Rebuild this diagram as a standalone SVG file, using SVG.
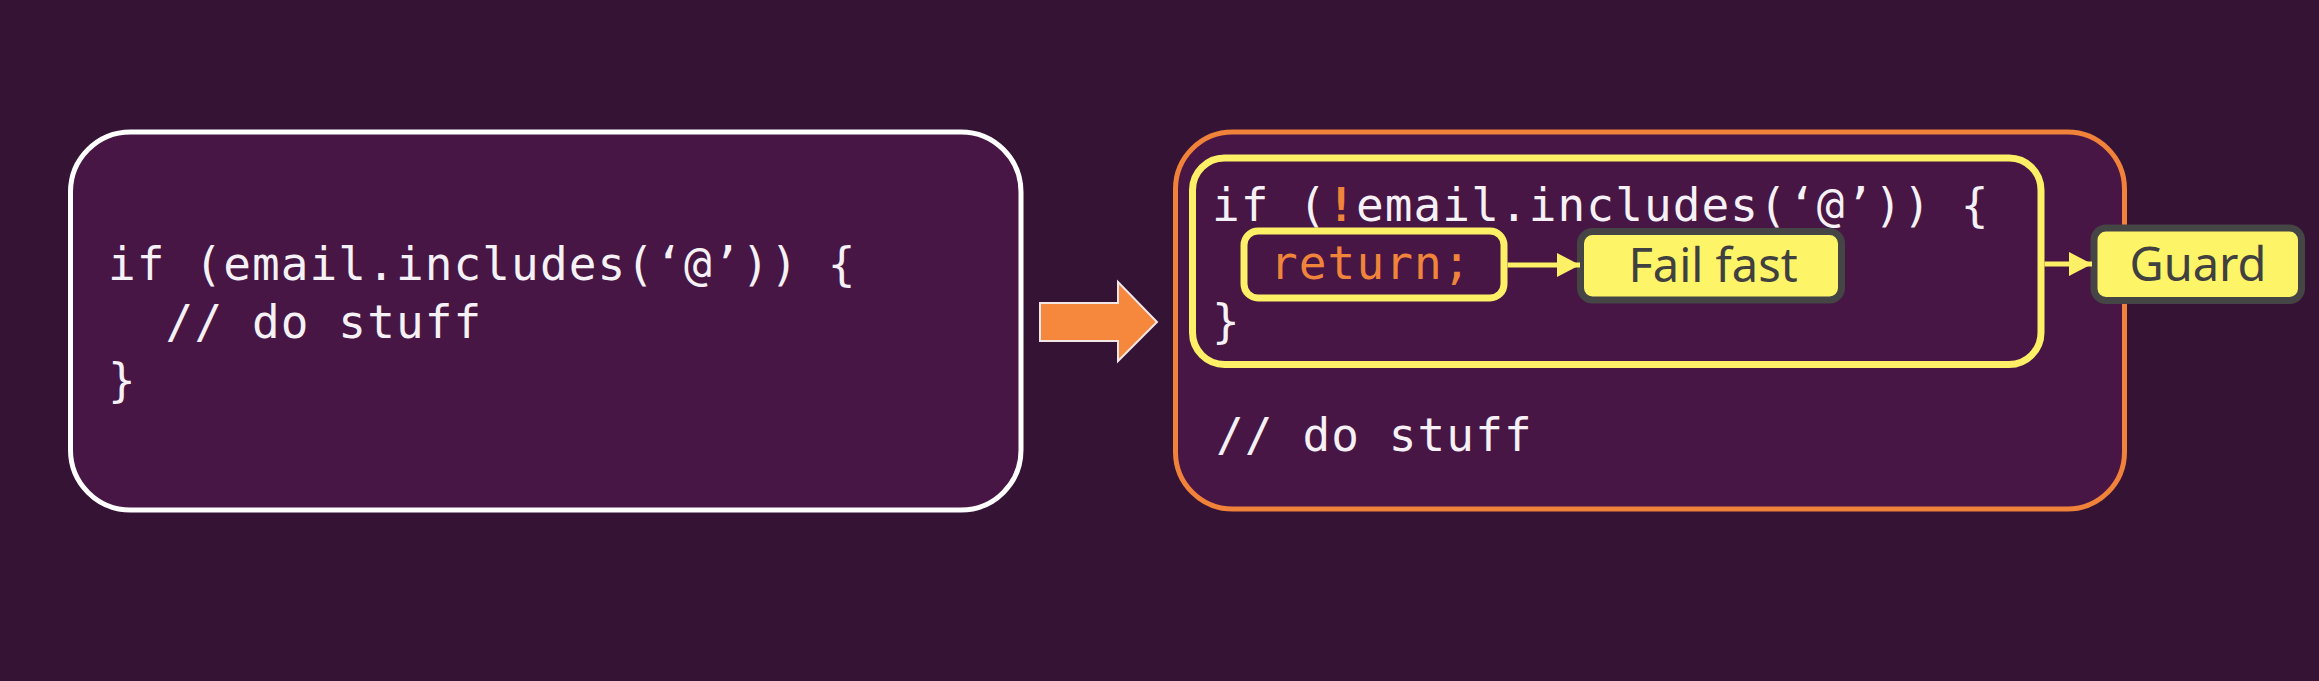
<svg xmlns="http://www.w3.org/2000/svg" width="2319" height="681" viewBox="0 0 2319 681">
<style>
.code{font-family:"DejaVu Sans Mono","Liberation Mono",monospace;font-size:46px;letter-spacing:1.1px;fill:#f6f1f6;}
.orange{fill:#f0843a;}
.bang{font-weight:bold;}
.label{font-family:"Noto Sans","Open Sans",sans-serif;font-size:47px;fill:#404040;text-anchor:middle;}
.panel{fill:#471644;}
.tag{fill:#fdf467;stroke:#454545;stroke-width:7;}
.conn{stroke:#fdf066;stroke-width:5;fill:none;}
</style>
<defs>
<marker id="ah" markerUnits="userSpaceOnUse" markerWidth="24" markerHeight="26" refX="23" refY="13" orient="auto">
<path d="M0,1 L23,13 L0,25 Z" fill="#fdf066"/>
</marker>
</defs>
<rect x="0" y="0" width="2319" height="681" fill="#341334"/>
<g id="before">
<rect class="panel" x="70.5" y="132" width="950.5" height="378" rx="60" stroke="#ffffff" stroke-width="5"/>
<text class="code" x="108" y="280">if (email.includes(‘@’)) {</text>
<text class="code" x="108" y="338" xml:space="preserve">  // do stuff</text>
<text class="code" x="108" y="396">}</text>
</g>
<g id="transform-arrow">
<polygon points="1040,303 1118,303 1118,282 1157,322 1118,361 1118,341 1040,341" fill="#f5883d" stroke="#f3e6e6" stroke-width="2"/>
</g>
<g id="after">
<rect class="panel" x="1175.5" y="132" width="949" height="377" rx="57" stroke="#f0823a" stroke-width="5"/>
<text class="code" x="1216" y="451">// do stuff</text>
</g>
<g id="guard-block">
<rect x="1192.5" y="158" width="848.5" height="206.5" rx="32" fill="none" stroke="#fdf066" stroke-width="7"/>
<text class="code" x="1212" y="221">if (<tspan class="orange bang">!</tspan>email.includes(‘@’)) {</text>
<text class="code" x="1212" y="337">}</text>
</g>
<g id="return-stmt">
<rect x="1244" y="231" width="260" height="67" rx="14" fill="none" stroke="#fdf066" stroke-width="7"/>
<text class="code orange" x="1270" y="279">return;</text>
</g>
<g id="fail-fast">
<rect class="tag" x="1580.5" y="231.5" width="261" height="68.5" rx="12"/>
<text class="label" x="1713" y="282">Fail fast</text>
</g>
<g id="guard">
<rect class="tag" x="2094" y="228" width="207.5" height="72.5" rx="12"/>
<text class="label" x="2198" y="281">Guard</text>
</g>
<g id="connectors">
<line class="conn" x1="1507.5" y1="265" x2="1580" y2="265" marker-end="url(#ah)"/>
<line class="conn" x1="2044.5" y1="264" x2="2092" y2="264" marker-end="url(#ah)"/>
</g>
</svg>
